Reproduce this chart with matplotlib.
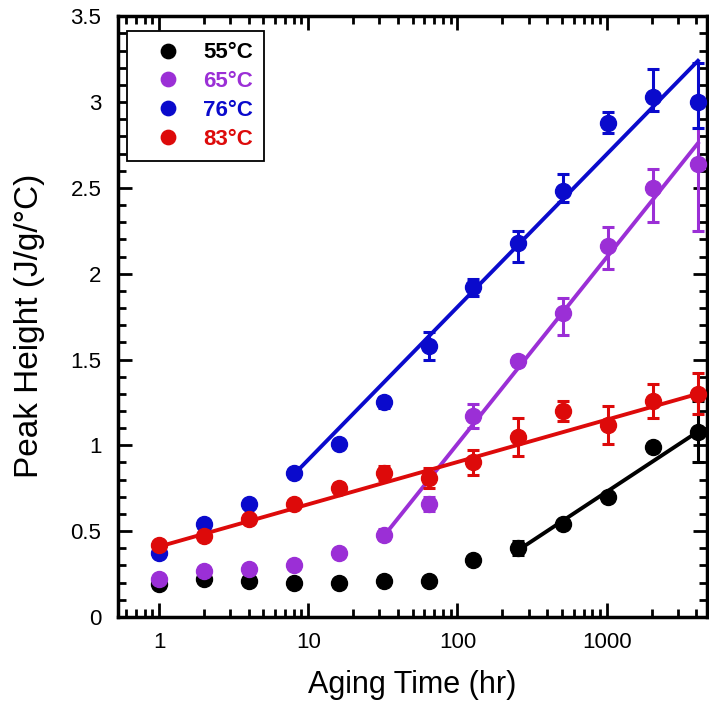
import numpy as np
import matplotlib
matplotlib.use("Agg")
import matplotlib.pyplot as plt
from matplotlib.ticker import LogLocator, MultipleLocator, FixedLocator, NullFormatter

plt.rcParams['font.family'] = ['Liberation Sans', 'DejaVu Sans']

# aging times (hr)
hours = [1, 2, 4, 8, 16, 32, 64, 128, 256, 512, 1024, 2048, 4096]

labels = ['55°C', '65°C', '76°C', '83°C']
colors = ['#000000', '#9B2FD6', '#0A0ACC', '#DD0A0A']

# peak heights (J/g/°C)
h55 = [0.19, 0.22, 0.21, 0.20, 0.20, 0.21, 0.21, 0.33, 0.40, 0.54, 0.70, 0.99, 1.08]
h65 = [0.22, 0.27, 0.28, 0.30, 0.37, 0.48, 0.66, 1.17, 1.49, 1.77, 2.16, 2.50, 2.64]
h76 = [0.37, 0.54, 0.66, 0.84, 1.01, 1.25, 1.58, 1.92, 2.18, 2.48, 2.88, 3.03, 3.00]
h83 = [0.42, 0.47, 0.57, 0.66, 0.75, 0.84, 0.81, 0.90, 1.05, 1.20, 1.12, 1.26, 1.30]

# error bars (lower, upper)
e55_lo = [0.01, 0.01, 0.01, 0.01, 0.01, 0.01, 0.01, 0.02, 0.04, 0.02, 0.02, 0.02, 0.18]
e55_hi = [0.01, 0.01, 0.01, 0.01, 0.01, 0.01, 0.01, 0.02, 0.04, 0.02, 0.02, 0.02, 0.18]
e65_lo = [0.01, 0.01, 0.01, 0.01, 0.02, 0.03, 0.04, 0.07, 0.03, 0.13, 0.13, 0.20, 0.39]
e65_hi = [0.01, 0.01, 0.01, 0.01, 0.02, 0.03, 0.04, 0.07, 0.03, 0.09, 0.11, 0.11, 0.39]
e76_lo = [0.01, 0.02, 0.02, 0.02, 0.02, 0.03, 0.08, 0.05, 0.11, 0.06, 0.06, 0.08, 0.15]
e76_hi = [0.01, 0.02, 0.02, 0.02, 0.02, 0.03, 0.08, 0.05, 0.07, 0.10, 0.06, 0.16, 0.23]
e83_lo = [0.01, 0.01, 0.02, 0.02, 0.03, 0.04, 0.06, 0.07, 0.11, 0.06, 0.11, 0.10, 0.12]
e83_hi = [0.01, 0.01, 0.02, 0.02, 0.03, 0.04, 0.06, 0.07, 0.11, 0.06, 0.11, 0.10, 0.12]

# linear fits in log(time): start/end hours and values
fit55_x, fit55_y = [256, 4096], [0.39, 1.08]
fit65_x, fit65_y = [32, 4096], [0.47, 2.76]
fit76_x, fit76_y = [8, 4096], [0.83, 3.24]
fit83_x, fit83_y = [1, 4096], [0.41, 1.30]

series = [
    (h55, e55_lo, e55_hi, fit55_x, fit55_y),
    (h65, e65_lo, e65_hi, fit65_x, fit65_y),
    (h76, e76_lo, e76_hi, fit76_x, fit76_y),
    (h83, e83_lo, e83_hi, fit83_x, fit83_y),
]

fig = plt.figure(figsize=(7.09, 7.04), dpi=100)
ax = fig.add_axes([0.1664, 0.1236, 0.8306, 0.8534])

for (h, lo, hi, fx, fy), lab, c in zip(series, labels, colors):
    ax.errorbar(hours, h, yerr=[lo, hi], fmt='none', ecolor=c,
                elinewidth=2.2, capsize=4, capthick=2.2, zorder=3)
    ax.plot(hours, h, 'o', color=c, markersize=11.5, label=lab, zorder=4)
    ax.plot(fx, fy, '-', color=c, linewidth=2.8, zorder=2)

ax.set_xscale('log')
ax.set_xlim(0.53, 4700)
ax.set_ylim(0, 3.5)

ax.xaxis.set_major_locator(FixedLocator([1, 10, 100, 1000]))
ax.xaxis.set_minor_locator(LogLocator(base=10, subs=np.arange(2, 10)))
ax.xaxis.set_minor_formatter(NullFormatter())
ax.set_xticklabels(['1', '10', '100', '1000'])
ax.yaxis.set_minor_locator(MultipleLocator(0.1))
ax.set_yticks([0, 0.5, 1, 1.5, 2, 2.5, 3, 3.5])
ax.set_yticklabels(['0', '0.5', '1', '1.5', '2', '2.5', '3', '3.5'])

ax.tick_params(which='both', direction='in', top=True, right=True,
               width=2, labelsize=16, colors='black')
ax.tick_params(which='major', length=10)
ax.tick_params(which='minor', length=5.5)
ax.tick_params(axis='x', which='major', pad=11)
ax.tick_params(axis='y', which='major', pad=12)
for s in ax.spines.values():
    s.set_linewidth(2.5)

ax.set_xlabel('Aging Time (hr)', fontsize=22, va='top')
ax.set_ylabel('Peak Height (J/g/°C)', fontsize=24, va='center')
ax.xaxis.set_label_coords(0.5, -0.088)
ax.yaxis.set_label_coords(-0.150, 0.485)

leg = ax.legend(loc='upper left', bbox_to_anchor=(0.015, 0.975), frameon=True,
                fancybox=False, edgecolor='black', framealpha=1,
                handletextpad=0.25, borderpad=0.5, labelspacing=0.35,
                handlelength=2.7, borderaxespad=0, markerscale=0.9,
                prop={'weight': 'bold', 'size': 16})
leg.get_frame().set_linewidth(1.3)
for txt, c in zip(leg.get_texts(), colors):
    txt.set_color(c)

fig.savefig('out.png', dpi=100)
